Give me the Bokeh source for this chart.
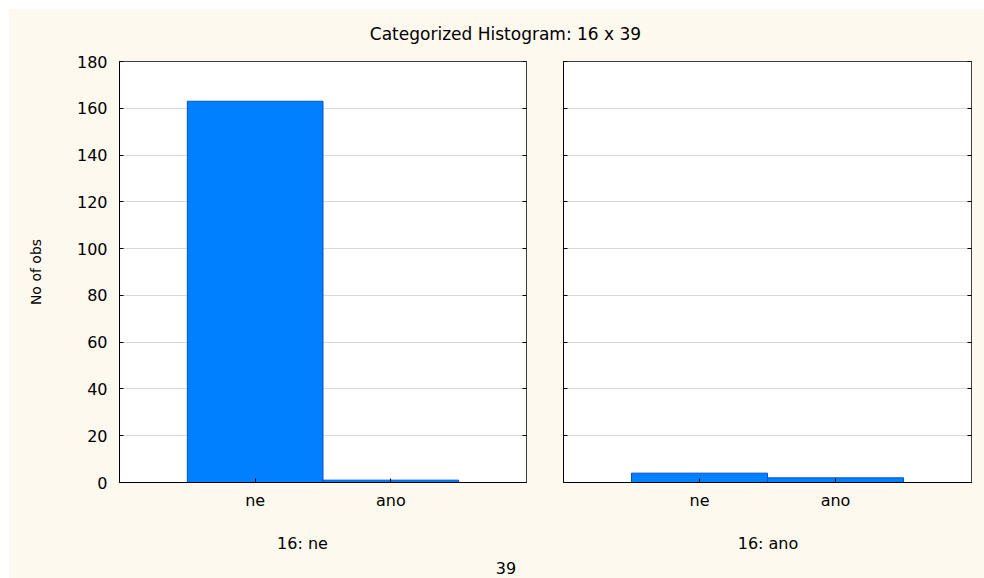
from bokeh.plotting import figure
from bokeh.models import FactorRange, Range1d, Label, LinearAxis, FixedTicker, ColumnDataSource
from bokeh.layouts import column, row
from bokeh.embed import file_html
from bokeh.resources import INLINE

# ---- data ----
categories = ["ne", "ano"]
panel_titles = ["16: ne", "16: ano"]
counts_panel_ne = [163, 1]
counts_panel_ano = [4, 2]
y_ticks = [0, 20, 40, 60, 80, 100, 120, 140, 160, 180]
title_text = "Categorized Histogram: 16 x 39"
x_var_label = "39"
y_label = "No of obs"

BG = "#FEF9EE"
FONT = "DejaVu Sans"
BAR_FILL = "#0080FF"
BAR_LINE = "#0050D0"

FRAME_H = 421
TOP_B = 13
BOT_B = 36


def make_panel(counts, left_border, right_border, frame_w, with_labels):
    p = figure(
        x_range=FactorRange(factors=categories, range_padding=0.5, range_padding_units="absolute"),
        y_range=Range1d(0, 180),
        frame_width=frame_w, frame_height=FRAME_H,
        min_border_left=left_border, min_border_right=right_border,
        min_border_top=TOP_B, min_border_bottom=BOT_B,
        output_backend="svg", toolbar_location=None,
        background_fill_color="white", border_fill_color=BG,
        outline_line_color="#404040",
        styles={"background-color": BG},
    )
    src = ColumnDataSource(dict(cat=categories, n=counts))
    p.vbar(x="cat", top="n", width=1.0, source=src,
           fill_color=BAR_FILL, line_color=BAR_LINE, line_width=1)

    p.xgrid.visible = False
    p.ygrid.grid_line_color = "#D8D8D8"
    p.ygrid.ticker = FixedTicker(ticks=y_ticks)

    xa = p.xaxis[0]
    xa.major_tick_in = 4
    xa.major_tick_out = 0
    xa.axis_line_color = "black"
    xa.major_tick_line_color = "black"
    xa.major_label_text_font = FONT
    xa.major_label_text_font_size = "16px"
    xa.major_label_text_color = "black"
    xa.major_label_standoff = 8

    ya = p.yaxis[0]
    ya.ticker = FixedTicker(ticks=y_ticks)
    ya.major_tick_in = 4
    ya.major_tick_out = 0
    ya.minor_tick_line_color = None
    ya.axis_line_color = "black"
    ya.major_label_text_font = FONT
    ya.major_label_text_font_size = "16px"
    ya.major_label_text_color = "black"
    if with_labels:
        ya.major_label_standoff = 12
        ya.axis_label = y_label
        ya.axis_label_text_font = FONT
        ya.axis_label_text_font_size = "14px"
        ya.axis_label_text_font_style = "normal"
        ya.axis_label_text_color = "black"
        ya.axis_label_standoff = 30
    else:
        ya.major_label_overrides = {t: "" for t in y_ticks}
        ya.major_label_standoff = 0

    ra = LinearAxis(ticker=FixedTicker(ticks=y_ticks),
                    major_label_overrides={t: "" for t in y_ticks},
                    major_label_standoff=0,
                    major_tick_in=4, major_tick_out=0,
                    minor_tick_line_color=None,
                    axis_line_color="#404040")
    p.add_layout(ra, "right")
    return p


p1 = make_panel(counts_panel_ne, 110, 19, 407, True)
p2 = make_panel(counts_panel_ano, 18, 13, 408, False)

TOTAL_W = 975


def strip(height):
    s = figure(width=TOTAL_W, height=height, x_range=Range1d(0, TOTAL_W), y_range=Range1d(0, height),
               x_axis_type=None, y_axis_type=None, min_border=0,
               output_backend="svg", toolbar_location=None,
               background_fill_color=BG, border_fill_color=BG, outline_line_color=None,
               styles={"background-color": BG})
    s.grid.visible = False
    return s


def text_label(x, y, t, size):
    return Label(x=x, y=y, text=t, text_align="center", text_baseline="middle",
                 text_font=FONT, text_font_size=size, text_color="black")


top = strip(39)
top.add_layout(text_label(496, 15, title_text, "17px"))

bottom = strip(60)
bottom.add_layout(text_label(293, 35, panel_titles[0], "16px"))
bottom.add_layout(text_label(758.5, 35, panel_titles[1], "16px"))
bottom.add_layout(text_label(496.5, 11, x_var_label, "16px"))

layout = column(top, row(p1, p2, spacing=0, styles={"background-color": BG}), bottom,
                spacing=0, margin=(9, 0, 0, 9), styles={"background-color": BG})

open("out.html", "w").write(file_html(layout, INLINE))
